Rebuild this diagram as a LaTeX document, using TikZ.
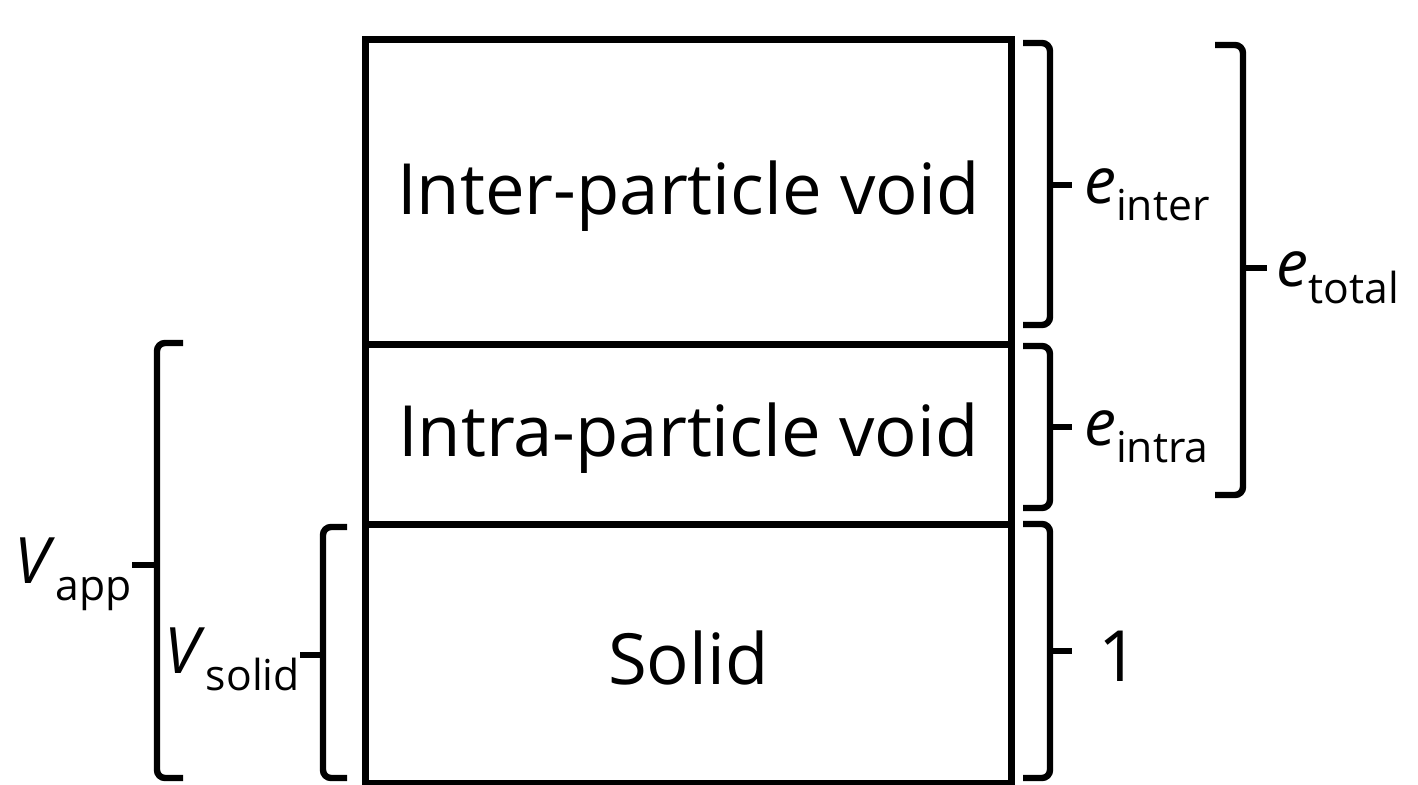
\documentclass[tikz,border=0pt]{standalone}
\usepackage{fontspec}
\setmainfont{Open Sans}
\newcommand{\sbx}[1]{\raisebox{-0.28em}{\fontsize{32}{32}\selectfont #1}}
\tikzset{
  px/.style={x=0.75pt,y=-0.75pt},
  line/.style={line width=5pt},
  brc/.style={line width=4.8pt, rounded corners=6pt, line cap=butt},
  boxtext/.style={font=\fontsize{53}{53}\selectfont, inner sep=0pt},
  lab/.style={font=\fontsize{48}{48}\selectfont, inner sep=0pt}
}
\begin{document}
\begin{tikzpicture}[px]
\useasboundingbox (0,0) rectangle (1418,785);
% boxes
\node[draw, line, minimum width=0.75*646pt, minimum height=0.75*305pt, inner sep=0pt, anchor=north west] (inter) at (362,36) {};
\node[draw, line, minimum width=0.75*646pt, minimum height=0.75*180pt, inner sep=0pt, anchor=north west] (intra) at (362,341) {};
\node[draw, line, minimum width=0.75*646pt, minimum height=0.75*259pt, inner sep=0pt, anchor=north west] (solid) at (362,521) {};
\node[boxtext] (tinter) at ([yshift=-3pt]inter.center) {Inter-particle void};
\node[boxtext] (tintra) at ([yshift=-3pt]intra.center) {Intra-particle void};
\node[boxtext] (tsolid) at ([yshift=-3pt]solid.center) {Solid};
% right braces
\draw[brc] (1023,43) -- (1050,43) -- (1050,325) -- (1023,325);
\draw[brc] (1023,346) -- (1050,346) -- (1050,508) -- (1023,508);
\draw[brc] (1023,524) -- (1050,524) -- (1050,778) -- (1023,778);
\draw[brc] (1215,45) -- (1243,45) -- (1243,495) -- (1215,495);
\coordinate (ti) at (1072,185);
\coordinate (ta) at (1072,427);
\coordinate (t1) at (1072,651);
\coordinate (tt) at (1267,268);
\draw[brc] (1050,185) -- (ti);
\draw[brc] (1050,427) -- (ta);
\draw[brc] (1050,651) -- (t1);
\draw[brc] (1243,268) -- (tt);
% left braces
\draw[brc] (183,343) -- (157,343) -- (157,778) -- (183,778);
\draw[brc] (347,527) -- (323,527) -- (323,778) -- (347,778);
\coordinate (tapp) at (132,565);
\coordinate (tsol) at (300,655);
\draw[brc] (157,565) -- (tapp);
\draw[brc] (323,655) -- (tsol);
% labels
\node[lab, anchor=base west] (einter) at ([xshift=9pt,yshift=-13.5pt]ti) {\textit{e}\sbx{inter}};
\node[lab, anchor=base west] (eintra) at ([xshift=9pt,yshift=-13.5pt]ta) {\textit{e}\sbx{intra}};
\node[boxtext, anchor=base west] (eone) at ([xshift=20pt,yshift=-23pt]t1) {1};
\node[lab, anchor=base west] (etotal) at ([xshift=7pt,yshift=-13.5pt]tt) {\textit{e}\sbx{total}};
\node[lab, anchor=base east] (vapp) at ([xshift=0pt,yshift=-13.5pt]tapp) {\textit{V}\sbx{app}};
\node[lab, anchor=base east] (vsolid) at ([xshift=0pt,yshift=-13.5pt]tsol) {\textit{V}\sbx{solid}};
\end{tikzpicture}
\end{document}
